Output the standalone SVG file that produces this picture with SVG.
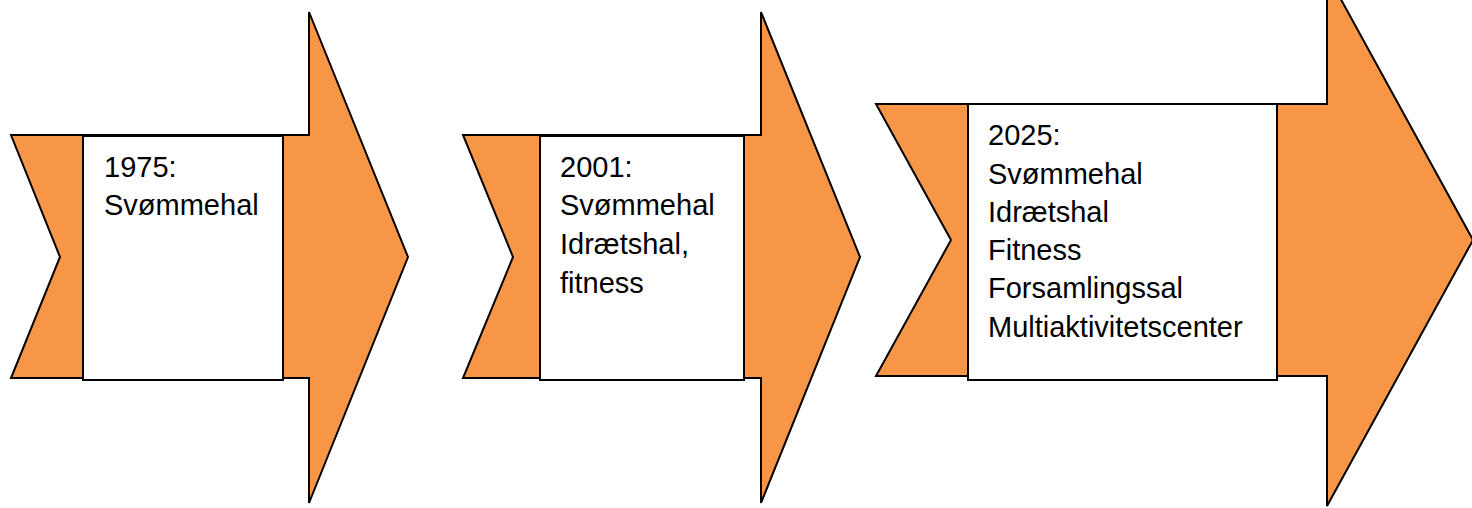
<svg xmlns="http://www.w3.org/2000/svg" width="1472" height="508" viewBox="0 0 1472 508">
<style>
.arrow{fill:#F79646;stroke:#000;stroke-width:2;stroke-linejoin:miter}
.box{fill:#fff;stroke:#000;stroke-width:2}
.lbl{font-family:"Liberation Sans",Arial,sans-serif;font-size:29px;fill:#000}
</style>
<rect width="1472" height="508" fill="#fff"/>
<g id="node-1975">
<polygon class="arrow" points="11,135 309,135 309,12 408,257 309,503 309,378 11,378 60,257"/>
<rect class="box" x="83" y="136" width="200" height="244"/>
<text class="lbl" x="104" y="177">1975:</text>
<text class="lbl" x="104" y="215">Svømmehal</text>
</g>
<g id="node-2001">
<polygon class="arrow" points="463,135 761,135 761,12 860,257 761,503 761,378 463,378 513,257"/>
<rect class="box" x="540" y="136" width="204" height="244"/>
<text class="lbl" x="560" y="177">2001:</text>
<text class="lbl" x="560" y="215">Svømmehal</text>
<text class="lbl" x="560" y="254">Idrætshal,</text>
<text class="lbl" x="560" y="293">fitness</text>
</g>
<g id="node-2025">
<polygon class="arrow" points="876,104 1327,104 1327,-26 1473,240 1327,506 1327,376 876,376 951,240"/>
<rect class="box" x="968" y="104" width="309" height="276"/>
<text class="lbl" x="988" y="145">2025:</text>
<text class="lbl" x="988" y="184">Svømmehal</text>
<text class="lbl" x="988" y="222">Idrætshal</text>
<text class="lbl" x="988" y="260">Fitness</text>
<text class="lbl" x="988" y="298">Forsamlingssal</text>
<text class="lbl" x="988" y="337">Multiaktivitetscenter</text>
</g>
<g id="connectors"></g>
</svg>
